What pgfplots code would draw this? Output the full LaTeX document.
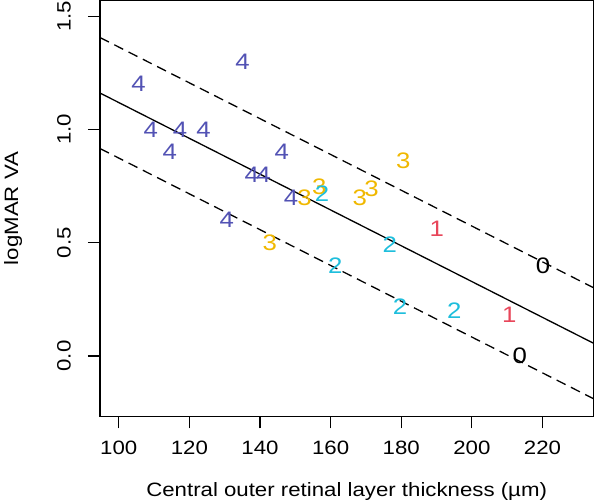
\documentclass[border=0pt]{standalone}
\usepackage{pgfplots}
\pgfplotsset{compat=1.18}
\usepackage{fontspec}
\setmainfont[FakeStretch=1.15]{Liberation Sans}
\definecolor{c4}{RGB}{82,82,180}
\definecolor{c3}{RGB}{240,184,0}
\definecolor{c2}{RGB}{30,190,220}
\definecolor{c1}{RGB}{232,70,90}
\definecolor{c0}{RGB}{0,0,0}
\newcommand{\tickfont}{\fontsize{19.4}{21}\selectfont}
\newcommand{\ptfont}{\fontsize{22.5}{24}\selectfont}
\begin{document}
\begin{tikzpicture}
\begin{axis}[
  at={(0,0)}, anchor=south west,
  scale only axis, width=493.3bp, height=415.7bp,
  xmin=94.7, xmax=234.4, ymin=-0.266, ymax=1.569,
  axis line style={line width=1.2bp},
  xtick={100,120,...,220}, ytick={0,0.5,1,1.5},
  xtick pos=left, ytick pos=left,
  tick align=outside,
  major tick length=12bp,
  tick style={black, line width=1.2bp},
  /pgf/number format/assume math mode=true,
  yticklabels={0.0,0.5,1.0,1.5},
  xticklabels={100,120,140,160,180,200,220},
  xticklabel style={font=\tickfont, anchor=north, inner sep=0pt},
  yticklabel style={font=\tickfont, rotate=90, anchor=south, inner sep=0pt},
  xticklabel shift=13bp, yticklabel shift=17bp,
  xlabel={Central outer retinal layer thickness (µm)},
  ylabel={logMAR VA},
  xlabel style={font=\tickfont, at={(axis description cs:0.5,-0.1932)}, anchor=base, inner sep=0pt},
  ylabel style={font=\tickfont, at={(axis description cs:-0.1662,0.5)}, anchor=base, inner sep=0pt},
]
\addplot[black, line width=1.3bp, mark=none] coordinates {(94.7,1.161) (234.4,0.057)};
\addplot[black, line width=1.3bp, mark=none, dash pattern=on 10bp off 6bp] coordinates {(94.7,1.406) (234.4,0.302)};
\addplot[black, line width=1.3bp, mark=none, dash pattern=on 10bp off 6bp] coordinates {(94.7,0.916) (234.4,-0.188)};
\addplot[draw=none, mark=none, nodes near coords={4},
  every node near coord/.append style={anchor=center, text=c4, font=\ptfont, inner sep=0pt}]
  coordinates {(135.1,1.30) (105.6,1.20) (109.1,1.00) (117.4,1.00) (124.0,1.00) (114.5,0.90) (146.2,0.90) (137.7,0.80) (141.0,0.80) (148.8,0.70) (130.6,0.60)};
\addplot[draw=none, mark=none, nodes near coords={3},
  every node near coord/.append style={anchor=center, text=c3, font=\ptfont, inner sep=0pt}]
  coordinates {(142.8,0.50) (152.6,0.70) (156.8,0.745) (168.3,0.70) (171.6,0.74) (180.6,0.86)};
\addplot[draw=none, mark=none, nodes near coords={2},
  every node near coord/.append style={anchor=center, text=c2, font=\ptfont, inner sep=0pt}]
  coordinates {(157.6,0.716) (176.8,0.49) (161.3,0.40) (179.7,0.22) (195.0,0.20)};
\addplot[draw=none, mark=none, nodes near coords={1},
  every node near coord/.append style={anchor=center, text=c1, font=\ptfont, inner sep=0pt}]
  coordinates {(190.1,0.56) (210.6,0.18)};
\addplot[draw=none, mark=none, nodes near coords={0},
  every node near coord/.append style={anchor=center, text=c0, font=\ptfont, inner sep=0pt}]
  coordinates {(220.2,0.40) (213.6,0.00)};
\end{axis}
\path (-100bp,-86.3bp) rectangle (497bp,415.7bp);
\end{tikzpicture}
\end{document}
